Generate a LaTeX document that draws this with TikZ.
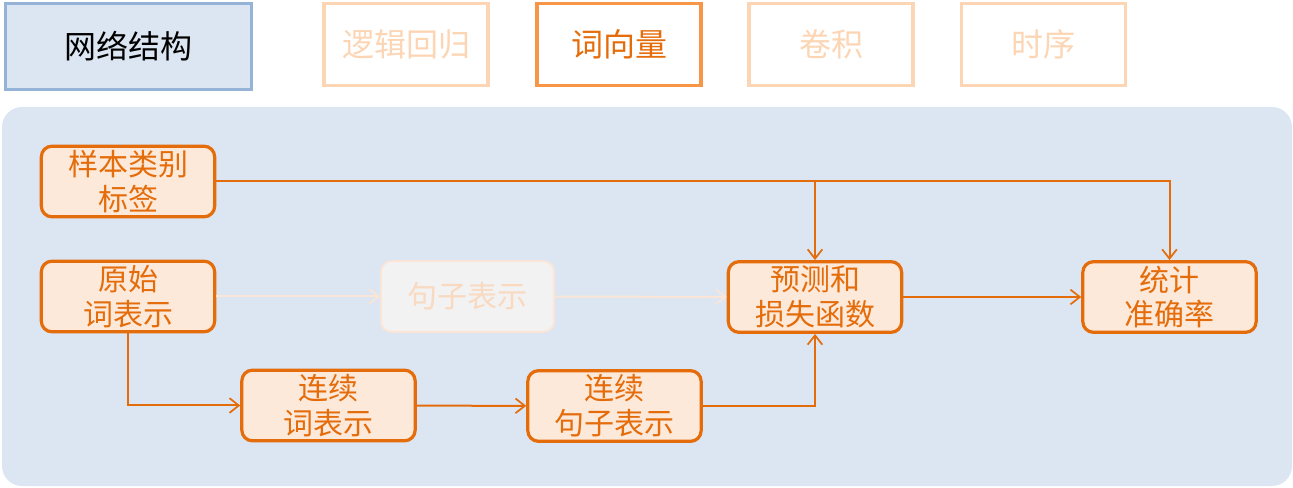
\documentclass[tikz,border=0pt]{standalone}
\usepackage{fontspec}
\setmainfont{Noto Sans CJK SC}
\usepackage{tikz}
\usetikzlibrary{arrows.meta,positioning}

\definecolor{panelblue}{HTML}{DCE6F2}
\definecolor{tabblue}{HTML}{95B3D7}
\definecolor{deeporange}{HTML}{E46C0A}
\definecolor{midorange}{HTML}{F79646}
\definecolor{paleorange}{HTML}{FCD5B4}
\definecolor{boxfill}{HTML}{FDE9D9}
\definecolor{ghostfill}{HTML}{F2F2F2}
\definecolor{ghostline}{HTML}{FBE5D6}
\definecolor{ghosttext}{HTML}{F9D9C0}

\begin{document}
\begin{tikzpicture}[
  x=0.75pt, y=-0.75pt,
  font=\fontsize{22.5}{26}\selectfont,
  tab/.style={draw=paleorange, line width=2.4pt, text=paleorange, font=\fontsize{24}{28}\selectfont, minimum width=123pt, minimum height=61pt, inner sep=0pt},
  acttab/.style={tab, draw=midorange, text=deeporange},
  nettab/.style={tab, draw=tabblue, fill=panelblue, text=black, minimum width=185pt, minimum height=64pt},
  stage/.style={draw=deeporange, fill=boxfill, text=deeporange, line width=2.4pt, rounded corners=8pt, minimum width=130pt, minimum height=53pt, inner sep=0pt, align=center},
  ghost/.style={stage, draw=ghostline, fill=ghostfill, text=ghosttext, line width=1.4pt},
  arr/.style={draw=deeporange, line width=1.5pt, -{Straight Barb[length=7pt, width=11pt, line width=1.3pt]}},
  ghostarr/.style={arr, draw=ghostline}
]
  \useasboundingbox (0,0) rectangle (1293,488);

  % tabs along the top
  \node[nettab] (net) at (128.5,46.5) {网络结构};
  \node[tab] (logit) at (406,44.5) {逻辑回归};
  \node[acttab] (wvec) at (619,44.5) {词向量};
  \node[tab] (conv) at (831,44.5) {卷积};
  \node[tab] (seq) at (1043.5,44.5) {时序};

  % panel
  \fill[panelblue, rounded corners=15pt] (2,107) rectangle (1292,486);

  \node[stage] (label) at (128,181.5) {样本类别\\标签};
  \node[stage] (raw) at (128,296.5) {原始\\词表示};
  \node[ghost] (sent) at (467.5,296.5) {句子表示};
  \node[stage] (pred) at (815,297) {预测和\\损失函数};
  \node[stage] (stat) at (1169.5,297) {统计\\准确率};
  \node[stage] (cword) at (328.5,405.5) {连续\\词表示};
  \node[stage] (csent) at (614.5,406) {连续\\句子表示};

  % faded path
  \draw[ghostarr] (raw) -- (sent);
  \draw[ghostarr] (sent) -- (pred);

  \draw[arr] (label.east) -| (pred.north);
  \draw[arr] (label.east) -| (stat.north);
  \draw[arr] (raw.south) |- (cword.west);
  \draw[arr] (cword) -- (csent);
  \draw[arr] (csent.east) -| (pred.south);
  \draw[arr] (pred) -- (stat);
\end{tikzpicture}
\end{document}
